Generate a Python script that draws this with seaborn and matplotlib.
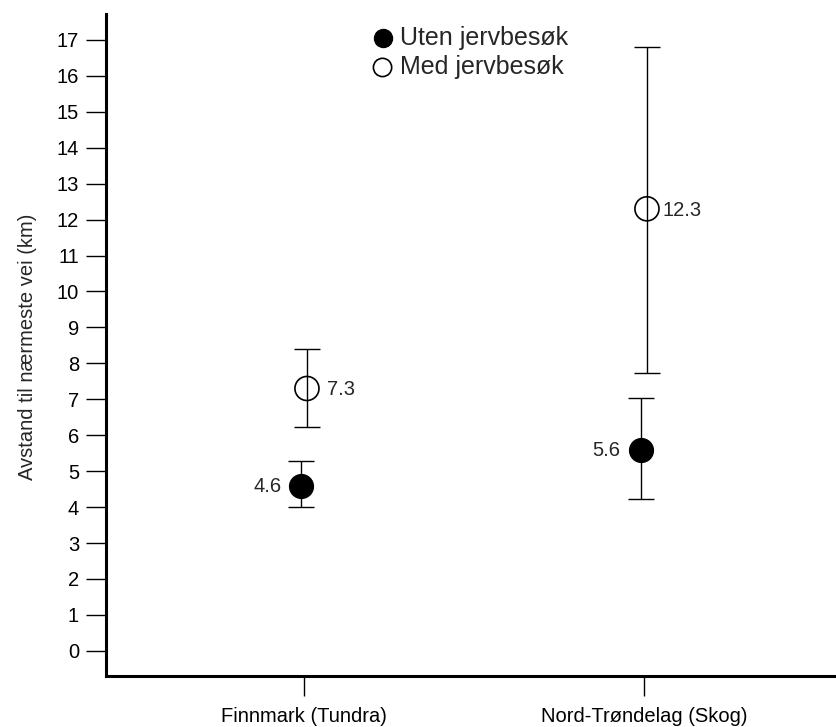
import matplotlib
matplotlib.use("Agg")
import matplotlib.pyplot as plt
import seaborn as sns
import numpy as np
import pandas as pd

# ---- data ----
categories = ["Finnmark (Tundra)", "Nord-Trøndelag (Skog)"]
series_names = ["Uten jervbesøk", "Med jervbesøk"]
uten_mean = [4.6, 5.6]
uten_low = [4.01, 4.23]
uten_high = [5.29, 7.04]
med_mean = [7.3, 12.3]
med_low = [6.23, 7.74]
med_high = [8.40, 16.81]
y_ticks = list(range(0, 18))
ylabel = "Avstand til nærmeste vei (km)"

sns.set_style("ticks")
plt.rcParams["font.family"] = ["Liberation Sans", "DejaVu Sans"]

fig = plt.figure(figsize=(8.36, 7.27), dpi=100)
ax = fig.add_axes([0.1268, 0.0702, 0.8732, 0.9105])

base = np.arange(len(categories))
dodge = {series_names[0]: -0.009, series_names[1]: 0.009}

rows = []
for name, means, lows, highs in [(series_names[0], uten_mean, uten_low, uten_high),
                                 (series_names[1], med_mean, med_low, med_high)]:
    for i, c in enumerate(categories):
        rows.append(dict(series=name, cat=c, pos=base[i] + dodge[name],
                         mean=means[i], low=lows[i], high=highs[i]))
df = pd.DataFrame(rows)

# error bars
for name in series_names:
    d = df[df.series == name]
    ax.errorbar(d["pos"], d["mean"],
                yerr=[d["mean"] - d["low"], d["high"] - d["mean"]],
                fmt="none", ecolor="black", elinewidth=1.0,
                capsize=9.4, capthick=1.0, zorder=2)

# points
d0 = df[df.series == series_names[0]]
d1 = df[df.series == series_names[1]]
sns.scatterplot(data=d0, x="pos", y="mean", ax=ax, s=300, color="black",
                edgecolor="black", linewidth=0.8, marker="o",
                label=series_names[0], zorder=3)
sns.scatterplot(data=d1, x="pos", y="mean", ax=ax, s=300, facecolor="none",
                edgecolor="black", linewidth=1.2, marker="o",
                label=series_names[1], zorder=3)

# value labels
offsets = {series_names[0]: [(-19, "right"), (-21, "right")],
           series_names[1]: [(20, "left"), (16, "left")]}
for name in series_names:
    d = df[df.series == name].reset_index(drop=True)
    for i, r in d.iterrows():
        dx, ha = offsets[name][i]
        ax.annotate(f"{r['mean']:.1f}", (r["pos"], r["mean"]),
                    xytext=(dx * 0.72, -1), textcoords="offset points",
                    ha=ha, va="center", fontsize=14.5)

ax.set_xlim(-0.582, 1.565)
ax.set_ylim(-0.70, 17.72)
ax.set_xticks(base)
ax.set_xticklabels(categories, fontsize=14.5)
ax.set_yticks(y_ticks)
ax.set_yticklabels([str(t) for t in y_ticks], fontsize=14.5)
ax.set_xlabel("")
ax.set_ylabel(ylabel, fontsize=14.5)
ax.yaxis.set_label_coords(-0.094, 0.497)

ax.tick_params(axis="both", direction="out", length=14.4, width=1.0,
               color="black", labelcolor="black")
ax.tick_params(axis="y", pad=5)
ax.tick_params(axis="x", pad=8)
for s in ["top", "right"]:
    ax.spines[s].set_visible(False)
for s in ["left", "bottom"]:
    ax.spines[s].set_linewidth(2.2)
    ax.spines[s].set_color("black")

leg = ax.legend(frameon=False, loc="upper left",
                bbox_to_anchor=(0.348, 0.997), fontsize=18,
                markerscale=0.76, handletextpad=0.18, labelspacing=0.2,
                handlelength=1.0, borderaxespad=0)

fig.savefig("out.png", dpi=100)
